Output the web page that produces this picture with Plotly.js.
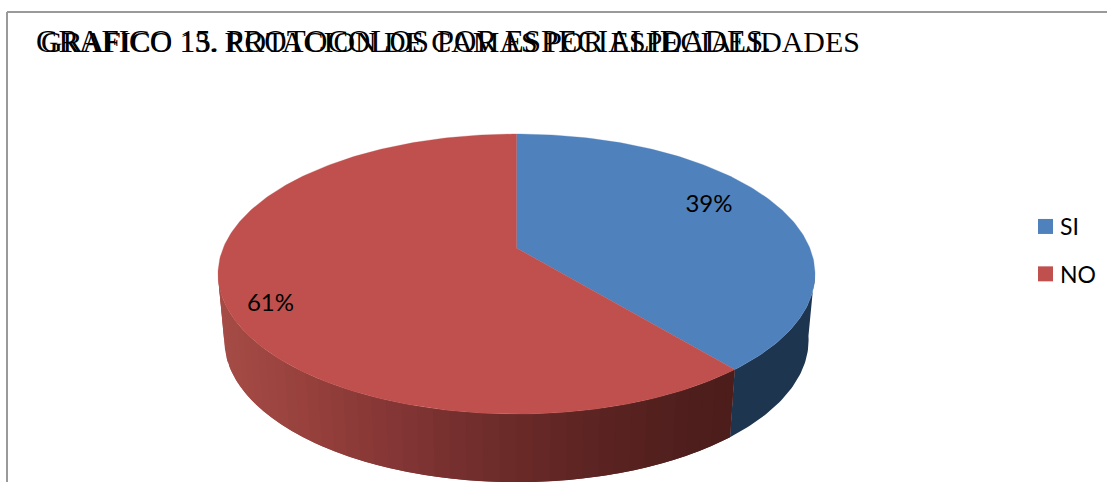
<!DOCTYPE html>
<html>
<head>
<meta charset="utf-8">
<script src="https://cdn.plot.ly/plotly-3.0.1.min.js"></script>
<style>html,body{margin:0;padding:0;background:#fff}#chart{width:1107px;height:482px}</style>
</head>
<body>
<div id="chart"></div>
<script>
// Chart content
const categories = ['SI', 'NO'];
const shares = [39, 61];
const titleLines = [
  'GRAFICO 15. PROTOCOLOS POR ESPECIALIDADES.',
  'GRAFICO 13. ROTACION DE CAMAS POR ESPECIALIDADES'
];

// Palette
const topColors = ['#4f81bd', '#c0504d'];
const wallBlue = '#1e3550';
const wallRedStops = [[225, [166, 76, 71]], [320, [150, 64, 60]], [400, [132, 54, 53]],
                      [500, [110, 44, 42]], [600, [92, 36, 34]], [700, [78, 30, 28]], [735, [76, 29, 27]]];

// Perspective disc: a unit circle mapped to the page plane, tilted away at the top
const disc = { cx: 516.5, k: 0.1857,
  top:    { cy: 248, ax: 293.3, ay: 135.2 },
  bottom: { cy: 314, ax: 287,   ay: 137 } };

function rim(level, share, r = 1) {
  const t = share / 100 * 2 * Math.PI;
  const u = r * Math.sin(t), v = r * Math.cos(t), w = 1 + disc.k * v;
  return [disc.cx + level.ax * u / w, level.cy - level.ay * v / w];
}

function wallRed(x) {
  const s = wallRedStops;
  if (x <= s[0][0]) return `rgb(${s[0][1].join(',')})`;
  for (let i = 1; i < s.length; i++) {
    if (x <= s[i][0]) {
      const f = (x - s[i - 1][0]) / (s[i][0] - s[i - 1][0]);
      const c = s[i - 1][1].map((a, j) => Math.round(a + (s[i][1][j] - a) * f));
      return `rgb(${c.join(',')})`;
    }
  }
  return `rgb(${s[s.length - 1][1].join(',')})`;
}

const traces = [];

// Side wall of a rim stretch, sampled finely so the curve stays round
function addWall(a, b, color) {
  const upper = [], lower = [];
  for (let s = a; s <= b + 1e-6; s += 0.25) {
    upper.push(rim(disc.top, s));
    lower.unshift(rim(disc.bottom, s));
  }
  const p = upper.concat(lower);
  p.push(p[0]);
  traces.push({ x: p.map(q => q[0]), y: p.map(q => q[1]), type: 'scatter', mode: 'lines', fill: 'toself',
    fillcolor: color, line: { color: color, width: 0 }, hoverinfo: 'skip', showlegend: false });
}
// The wall is only seen between the two points where the rim turns back
const wallStart = 27.5, wallEnd = 72.5;
const split = shares[0];
const step = 0.75;
addWall(wallStart, split, wallBlue);
// Red wall drawn as facets that overlap the next one, hiding any seam; shading follows the page x
for (let a = wallEnd; a > split; a -= step) {
  addWall(Math.max(a - 2 * step, split), a, wallRed(rim(disc.bottom, a - step)[0]));
}

// Top surface of each slice: wedge from the centre along the rim
let start = 0;
shares.forEach((share, i) => {
  const xs = [disc.cx], ys = [disc.top.cy];
  for (let a = start; a <= start + share + 1e-6; a += 0.25) {
    const p = rim(disc.top, a);
    xs.push(p[0]); ys.push(p[1]);
  }
  xs.push(disc.cx); ys.push(disc.top.cy);
  traces.push({ x: xs, y: ys, type: 'scatter', mode: 'lines', fill: 'toself', fillcolor: topColors[i],
    line: { color: topColors[i], width: 0.3 }, name: categories[i], showlegend: false, hoverinfo: 'name' });
  start += share;
});

// Percentage labels
traces.push({ x: [709, 270.5], y: [206, 305], type: 'scatter', mode: 'text',
  text: shares.map(s => s + '%'), textposition: 'middle center',
  textfont: { family: 'Lato, sans-serif', size: 24, color: '#000' }, hoverinfo: 'skip', showlegend: false });

// Legend entries
categories.forEach((c, i) => {
  traces.push({ x: [null], y: [null], type: 'scatter', mode: 'markers', name: c, legendgroup: c,
    marker: { symbol: 'square', size: 15, color: topColors[i] } });
});

const layout = {
  width: 1107, height: 482,
  margin: { l: 0, r: 0, t: 0, b: 0 },
  paper_bgcolor: '#fff', plot_bgcolor: '#fff',
  xaxis: { range: [0, 1107], visible: false, fixedrange: true },
  yaxis: { range: [482, 0], visible: false, fixedrange: true },
  hovermode: 'closest',
  legend: { x: 1020 / 1107, xanchor: 'left', y: 1 - 205 / 482, yanchor: 'top', tracegroupgap: 14.5,
    bgcolor: 'rgba(0,0,0,0)', font: { family: 'Lato, sans-serif', size: 23, color: '#000' } },
  title: { text: titleLines[0], x: 36 / 1107, xanchor: 'left', y: 1 - 41 / 482, yanchor: 'middle',
    font: { family: '"Liberation Serif", serif', size: 31, color: '#000', weight: 400 } },
  annotations: [{ text: titleLines[1], xref: 'paper', yref: 'paper', x: 38.5 / 1107, xanchor: 'left',
    y: 1 - 41 / 482, yanchor: 'middle', showarrow: false,
    font: { family: '"Liberation Serif", serif', size: 29.9, color: '#000', weight: 400 } }],
  shapes: [
    { type: 'line', xref: 'x', yref: 'y', x0: 7, x1: 1107, y0: 12, y1: 12, line: { color: '#9a9a9a', width: 2 } },
    { type: 'line', xref: 'x', yref: 'y', x0: 7, x1: 7, y0: 12, y1: 482, line: { color: '#9a9a9a', width: 2 } }
  ]
};

Plotly.newPlot('chart', traces, layout, { displayModeBar: false, responsive: false }).then(() => {
  // Bring the legend swatches closer to their labels
  document.querySelectorAll('#chart .legendsymbols').forEach(g => g.setAttribute('transform', 'translate(5.5,0)'));
});
</script>
</body>
</html>
